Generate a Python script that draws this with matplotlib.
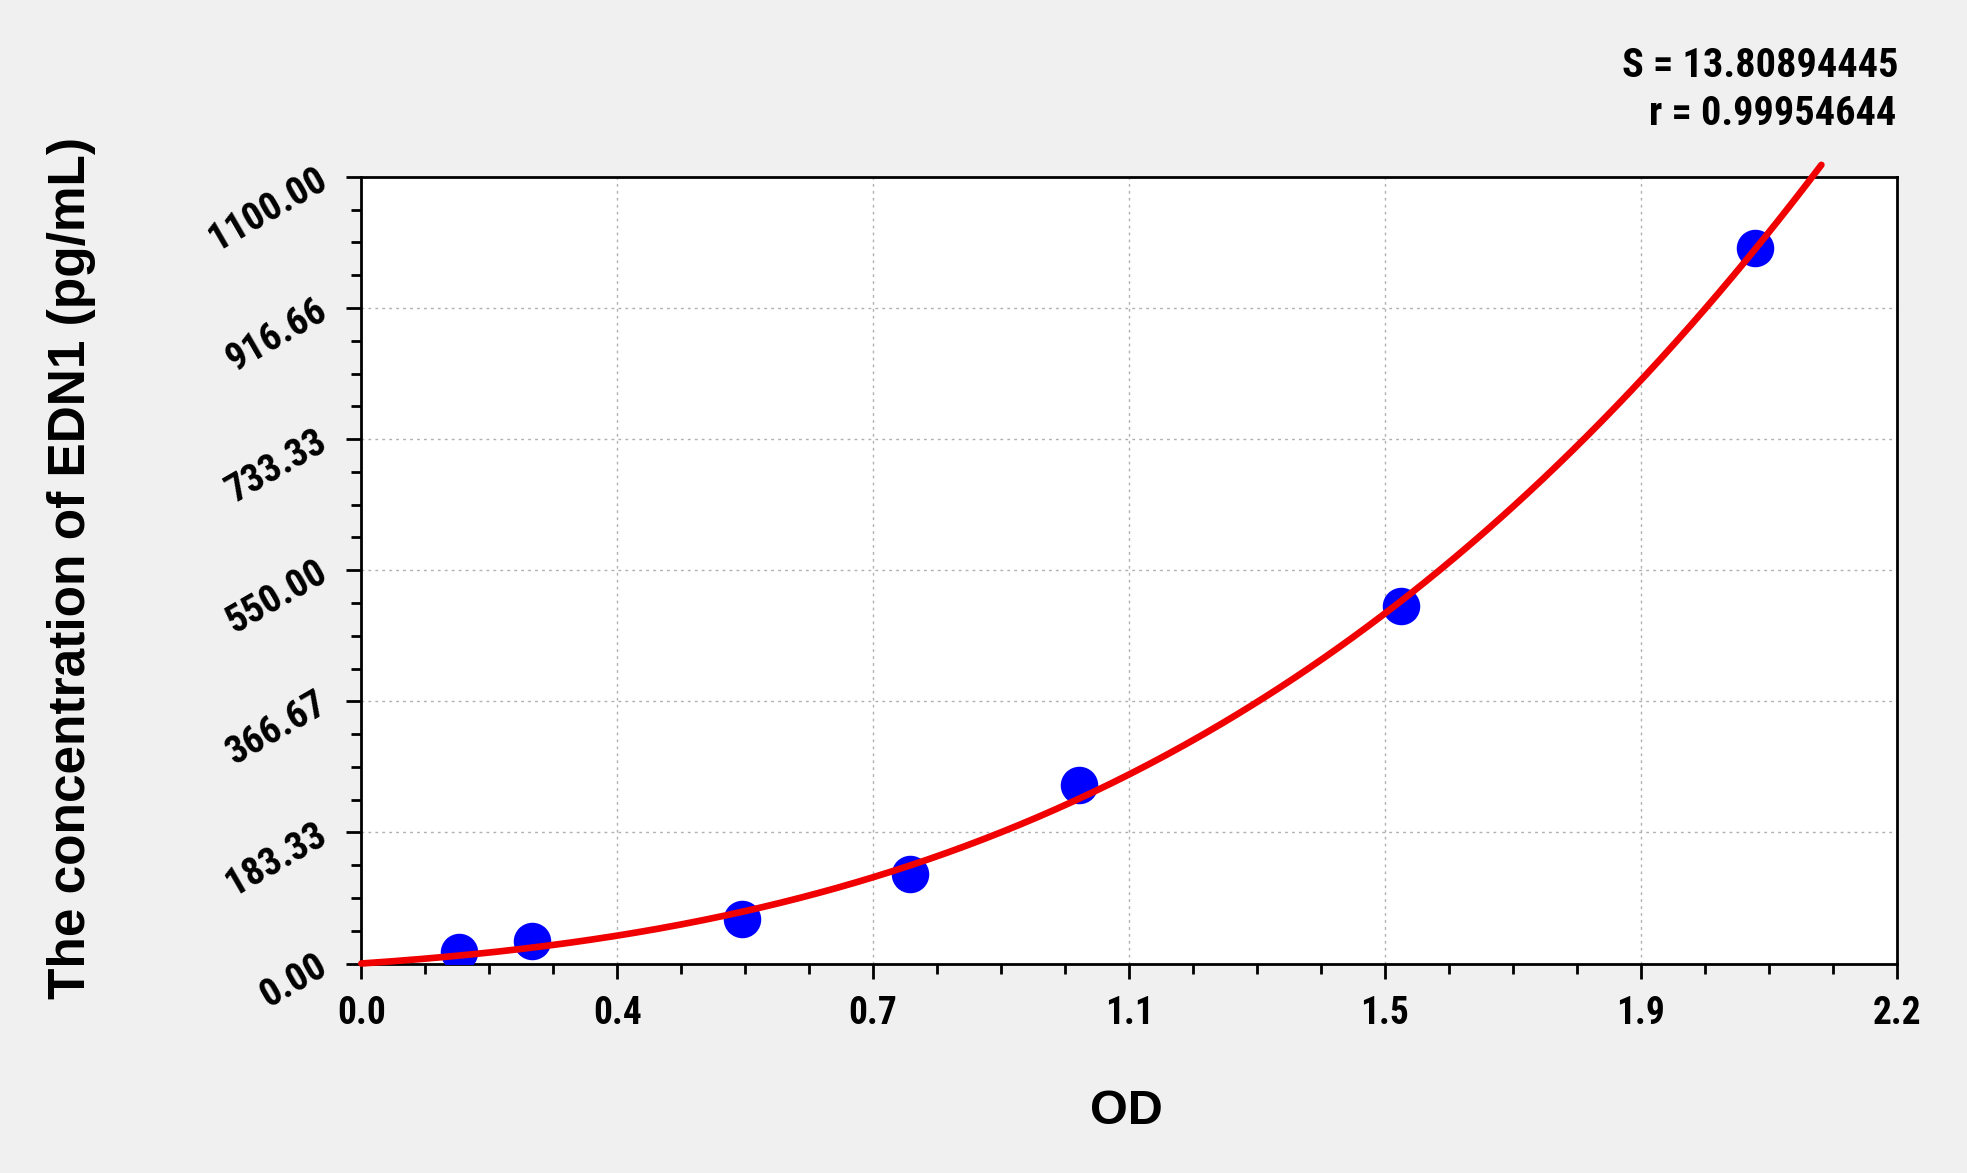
import numpy as np
import matplotlib
matplotlib.use("Agg")
import matplotlib.pyplot as plt
from matplotlib.ticker import FixedLocator, AutoMinorLocator
from matplotlib import font_manager

# ---- data ----
od_values = [0.140, 0.245, 0.546, 0.786, 1.028, 1.490, 1.997]
conc_values = [15.63, 31.25, 62.5, 125.0, 250.0, 500.0, 1000.0]
x_tick_labels = ["0.0", "0.4", "0.7", "1.1", "1.5", "1.9", "2.2"]
y_tick_labels = ["0.00", "183.33", "366.67", "550.00", "733.33", "916.66", "1100.00"]
fit_od_range = [0.0, 2.092]
stat_lines = ["S = 13.80894445", "r = 0.99954644"]
x_label = "OD"
y_label = "The concentration of EDN1 (pg/mL)"

bold_names = {f.name for f in font_manager.fontManager.ttflist
              if (f.weight if isinstance(f.weight, int) else 400) >= 700
              or f.weight in ("bold", "heavy", "black")}
narrow = "Liberation Sans"
for cand in ["Liberation Sans Narrow", "Arial Narrow", "Roboto Condensed",
             "PT Sans Narrow", "Archivo Narrow", "IBM Plex Sans Condensed",
             "Open Sans Condensed"]:
    if cand in bold_names:
        narrow = cand
        break
wide = "Liberation Sans"

fig = plt.figure(figsize=(19.67, 11.73), dpi=100, facecolor="#f0f0f0")
ax = fig.add_axes([0.1837, 0.1786, 0.7806, 0.6706])
ax.set_facecolor("white")

xmax = 2.2
ymax = 1100.0
ax.set_xlim(0, xmax)
ax.set_ylim(0, ymax)

xt = np.linspace(0, xmax, len(x_tick_labels))
yt = np.linspace(0, ymax, len(y_tick_labels))
ax.xaxis.set_major_locator(FixedLocator(xt))
ax.yaxis.set_major_locator(FixedLocator(yt))
ax.set_xticklabels(x_tick_labels)
ax.set_yticklabels(y_tick_labels)
ax.xaxis.set_minor_locator(AutoMinorLocator(4))
ax.yaxis.set_minor_locator(AutoMinorLocator(4))

ax.grid(True, which="major", color="#b0b0b0", linestyle=(0, (2, 3)), linewidth=1.0)
ax.set_axisbelow(True)

for s in ax.spines.values():
    s.set_linewidth(2.0)
    s.set_color("black")

ax.tick_params(which="major", direction="out", length=11, width=2.0, color="black")
ax.tick_params(which="minor", direction="out", length=7, width=2.0, color="black")
ax.tick_params(axis="x", which="major", pad=12)
ax.tick_params(axis="y", which="major", pad=16)

for lab in ax.get_xticklabels():
    lab.set_fontfamily(narrow)
    lab.set_fontweight("bold")
    lab.set_fontsize(27)
for lab in ax.get_yticklabels():
    lab.set_fontfamily(narrow)
    lab.set_fontweight("bold")
    lab.set_fontsize(28)
    lab.set_rotation(30)
    lab.set_rotation_mode("anchor")
    lab.set_ha("right")
    lab.set_va("center")

# fitted curve: cubic regression of the standards through the origin
X = np.column_stack([np.asarray(od_values), np.asarray(od_values) ** 2, np.asarray(od_values) ** 3])
coef, *_ = np.linalg.lstsq(X, np.asarray(conc_values), rcond=None)
xf = np.linspace(fit_od_range[0], fit_od_range[1], 400)
yf = coef[0] * xf + coef[1] * xf ** 2 + coef[2] * xf ** 3
ax.plot(xf, yf, color="#f00000", linewidth=4.8, zorder=4, clip_on=False,
        solid_capstyle="round")

ax.plot(od_values, conc_values, linestyle="none", marker="o", markersize=26,
        markerfacecolor="#0000ff", markeredgecolor="#0000ff", zorder=3)

fig.text(0.0364, 0.5155, y_label, rotation=90, ha="center", va="center",
         fontsize=37, fontweight="bold", family=wide)
fig.text(0.5727, 0.0524, x_label, ha="center", va="center",
         fontsize=35, fontweight="bold", family=wide)
fig.text(0.965, 0.944, stat_lines[0], ha="right", va="center",
         fontsize=29, fontweight="bold", family=narrow)
fig.text(0.964, 0.903, stat_lines[1], ha="right", va="center",
         fontsize=29, fontweight="bold", family=narrow)

fig.savefig("out.png", dpi=100, facecolor=fig.get_facecolor())
